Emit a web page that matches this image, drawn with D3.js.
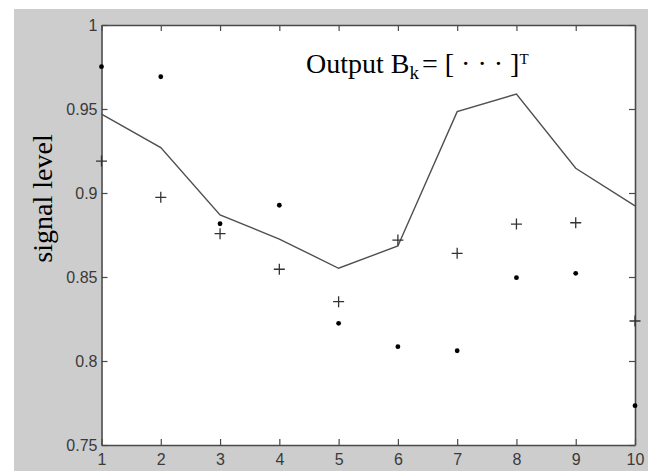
<!DOCTYPE html>
<html>
<head>
<meta charset="utf-8">
<script src="https://cdn.jsdelivr.net/npm/d3@7/dist/d3.min.js"></script>
<style>
  html, body { margin: 0; padding: 0; background: #ffffff; }
  svg { display: block; }
</style>
</head>
<body>
<svg id="chart" width="648" height="471"></svg>
<script>
// Sample index along the horizontal axis
const samples = [1, 2, 3, 4, 5, 6, 7, 8, 9, 10];
// Reference output level (solid line)
const outputLine = [0.947, 0.927, 0.887, 0.8726, 0.8552, 0.8685, 0.9484, 0.9589, 0.9147, 0.8923];
// Estimated levels ("+" markers)
const plusLevels = [0.919, 0.8974, 0.8758, 0.8546, 0.8353, 0.872, 0.8641, 0.8815, 0.8823, 0.8238];
// Measured levels (dot markers)
const dotLevels = [0.9752, 0.9692, 0.8817, 0.8927, 0.8224, 0.8085, 0.8061, 0.8496, 0.8522, 0.7734];
// Axis ticks
const xTicks = [1, 2, 3, 4, 5, 6, 7, 8, 9, 10];
const yTicks = [0.75, 0.8, 0.85, 0.9, 0.95, 1];
const yTickLabels = ["0.75", "0.8", "0.85", "0.9", "0.95", "1"];

const svg = d3.select("#chart");

// Figure background
svg.append("rect")
  .attr("x", 14).attr("y", 9)
  .attr("width", 634).attr("height", 462)
  .attr("fill", "#cdcdcd");

const plotLeft = 101.5, plotRight = 635, plotTop = 25, plotBottom = 445;

const x = d3.scaleLinear().domain([1, 10]).range([plotLeft, plotRight]);
const y = d3.scaleLinear().domain([0.75, 1]).range([plotBottom, plotTop]);

// Plot area
svg.append("rect")
  .attr("x", plotLeft).attr("y", plotTop)
  .attr("width", plotRight - plotLeft).attr("height", plotBottom - plotTop)
  .attr("fill", "#ffffff");

const axisColor = "#4a4a4a";
const tickFont = "'Liberation Sans', Arial, sans-serif";

function styleAxis(g) {
  g.selectAll("path.domain").attr("stroke", axisColor).attr("stroke-width", 1.6);
  g.selectAll(".tick line").attr("stroke", axisColor).attr("stroke-width", 1.2);
  g.selectAll(".tick text")
    .attr("fill", "#3a3a3a")
    .style("font-family", tickFont)
    .style("font-size", "16px");
}

svg.append("g")
  .attr("transform", `translate(0,${plotBottom})`)
  .call(d3.axisBottom(x).tickValues(xTicks).tickFormat(d3.format("d"))
    .tickSizeInner(-6).tickSizeOuter(0).tickPadding(9))
  .call(styleAxis);

svg.append("g")
  .attr("transform", `translate(0,${plotTop})`)
  .call(d3.axisTop(x).tickValues(xTicks).tickFormat("")
    .tickSizeInner(-6).tickSizeOuter(0))
  .call(styleAxis);

svg.append("g")
  .attr("transform", `translate(${plotLeft},0)`)
  .call(d3.axisLeft(y).tickValues(yTicks)
    .tickFormat((d, i) => yTickLabels[i])
    .tickSizeInner(-6).tickSizeOuter(0).tickPadding(4))
  .call(styleAxis);

svg.append("g")
  .attr("transform", `translate(${plotRight},0)`)
  .call(d3.axisRight(y).tickValues(yTicks).tickFormat("")
    .tickSizeInner(-6).tickSizeOuter(0))
  .call(styleAxis);

// Solid output line
const line = d3.line()
  .x((d, i) => x(samples[i]))
  .y(d => y(d));

svg.append("path")
  .datum(outputLine)
  .attr("d", line)
  .attr("fill", "none")
  .attr("stroke", "#4f4f4f")
  .attr("stroke-width", 1.4);

// "+" markers
const plusSize = 5.5;
svg.append("g")
  .selectAll("path")
  .data(plusLevels)
  .join("path")
  .attr("d", (d, i) => {
    const cx = x(samples[i]), cy = y(d);
    return `M${cx - plusSize},${cy}H${cx + plusSize}M${cx},${cy - plusSize}V${cy + plusSize}`;
  })
  .attr("stroke", "#333")
  .attr("stroke-width", 1.3)
  .attr("fill", "none");

// Dot markers
svg.append("g")
  .selectAll("circle")
  .data(dotLevels)
  .join("circle")
  .attr("cx", (d, i) => x(samples[i]))
  .attr("cy", d => y(d))
  .attr("r", 2.4)
  .attr("fill", "#000");

// Y axis label
svg.append("text")
  .attr("transform", "translate(52,198.5) rotate(-90)")
  .attr("text-anchor", "middle")
  .style("font-family", "'Liberation Serif', 'Times New Roman', serif")
  .style("font-size", "28px")
  .attr("fill", "#000")
  .text("signal level");

// Title annotation inside the plot
const title = svg.append("text")
  .attr("x", 306).attr("y", 73)
  .style("font-family", "'Liberation Serif', 'Times New Roman', serif")
  .style("font-size", "28px")
  .attr("fill", "#000");
title.append("tspan").text("Output B");
title.append("tspan").attr("dy", 6).style("font-size", "19px").text("k");
title.append("tspan").attr("dy", -6).attr("dx", 3).text("= [ \u00b7 \u00b7 \u00b7 ]");
title.append("tspan").attr("dy", -9).style("font-size", "15px").text("T");
</script>
</body>
</html>
